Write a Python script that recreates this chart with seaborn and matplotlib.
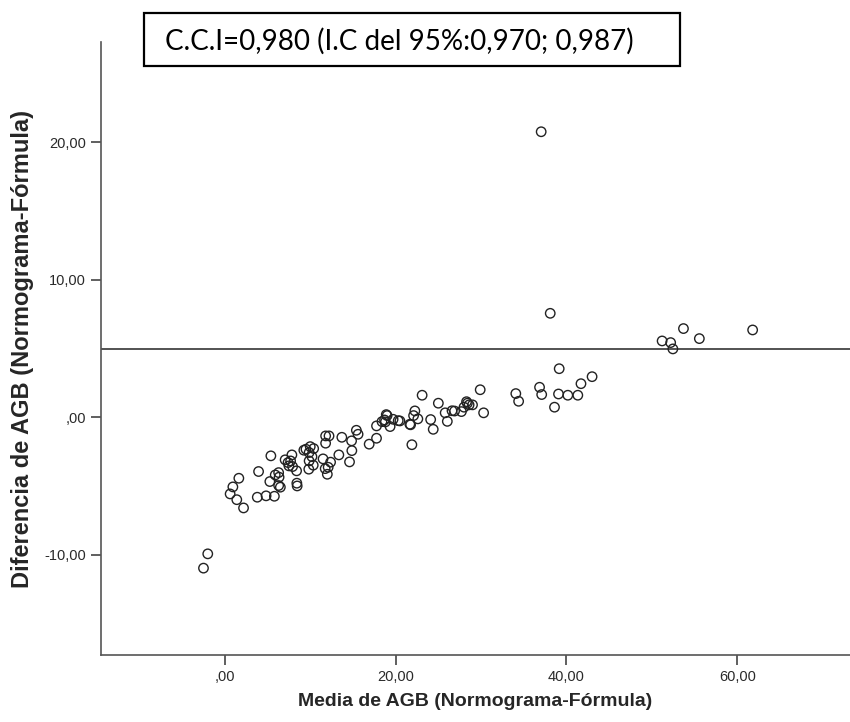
import matplotlib
matplotlib.use("Agg")
import matplotlib.pyplot as plt
import seaborn as sns
import pandas as pd
from matplotlib.ticker import FuncFormatter, FixedLocator
from matplotlib.patches import Rectangle

# ---- data ----
media = [-2.5, -2.0,
         0.62, 0.94, 1.4, 1.64, 2.19,
         3.8, 3.95, 4.83, 5.8,
         5.27, 5.39, 5.9, 6.3, 6.35, 6.5, 6.3,
         7.06, 7.4, 7.5, 7.85, 7.7, 7.93, 8.4, 8.43, 8.47,
         9.25, 9.5, 10.0, 9.87, 9.87, 9.83, 10.4, 10.2, 10.35,
         11.5, 11.75, 11.8, 12.2, 11.8, 12.38, 12.1, 12.0,
         13.35, 13.7, 14.84, 14.87, 14.6,
         15.4, 15.6, 16.9, 17.76, 17.76,
         18.4, 18.7, 18.8, 18.9, 19.0, 19.35, 19.7, 20.3,
         20.5, 21.66, 21.75, 21.9, 22.1, 22.25, 22.6,
         23.1, 24.1, 24.4, 25.0, 25.8, 26.05, 26.6, 26.9, 27.7, 28.0,
         28.3, 28.4, 28.6, 29.0, 29.9, 30.3,
         34.07, 34.4, 36.85, 37.1, 37.04, 38.1, 39.15, 39.07, 40.16,
         41.33, 38.6, 41.7, 43.0,
         51.2, 52.2, 52.46, 53.7, 55.56, 61.8]
diferencia = [-10.98, -9.94,
              -5.58, -5.07, -6.0, -4.44, -6.6,
              -5.82, -3.95, -5.72, -5.75,
              -4.68, -2.81, -4.2, -4.03, -4.36, -5.09, -4.97,
              -3.1, -3.3, -3.54, -2.74, -3.18, -3.59, -3.9, -4.8, -5.0,
              -2.4, -2.33, -2.14, -2.57, -3.18, -3.78, -2.28, -2.87, -3.49,
              -3.03, -3.74, -1.36, -1.36, -1.89, -3.27, -3.64, -4.15,
              -2.74, -1.46, -1.72, -2.43, -3.25,
              -0.95, -1.24, -1.96, -1.53, -0.63,
              -0.32, -0.2, -0.34, 0.19, 0.12, -0.68, -0.15, -0.25,
              -0.27, -0.51, -0.55, -2.0, 0.12, 0.46, -0.12,
              1.6, -0.17, -0.88, 1.02, 0.32, -0.3, 0.47, 0.45, 0.41, 0.73,
              1.13, 1.02, 0.9, 0.9, 2.0, 0.32,
              1.72, 1.16, 2.18, 1.65, 20.77, 7.56, 3.53, 1.69, 1.60,
              1.60, 0.73, 2.44, 2.95,
              5.55, 5.43, 4.97, 6.45, 5.72, 6.35]
linea_referencia = 5.0
x_ticks = [0, 20, 40, 60]
y_ticks = [-10, 0, 10, 20]
x_label = "Media de AGB (Normograma-Fórmula)"
y_label = "Diferencia de AGB (Normograma-Fórmula)"
titulo = "C.C.I=0,980 (I.C del 95%:0,970; 0,987)"

df = pd.DataFrame({"media": media, "diferencia": diferencia})

sns.set_style("white")
plt.rcParams["font.family"] = ["Liberation Sans", "DejaVu Sans"]

fig = plt.figure(figsize=(8.5, 7.22), dpi=100)
ax = fig.add_axes([101 / 850, 1 - 655 / 722, (850 - 101) / 850, (655 - 42) / 722])

sns.scatterplot(data=df, x="media", y="diferencia", ax=ax, s=46,
                marker="o", linewidth=1.0, edgecolor="#222222", zorder=3)
for coll in ax.collections:
    coll.set_facecolor("none")
    coll.set_edgecolor("#222222")

ax.axhline(linea_referencia, color="#444444", lw=1.3, zorder=2)

ax.set_xlim(-14.5, 73.2)
ax.set_ylim(-17.3, 27.3)


def fmt(v, pos=None):
    s = f"{v:.2f}".replace(".", ",")
    if s.startswith("0,"):
        s = s[1:]
    return s


ax.xaxis.set_major_locator(FixedLocator(x_ticks))
ax.yaxis.set_major_locator(FixedLocator(y_ticks))
ax.xaxis.set_major_formatter(FuncFormatter(fmt))
ax.yaxis.set_major_formatter(FuncFormatter(fmt))

for sp in ["top", "right"]:
    ax.spines[sp].set_visible(False)
for sp in ["left", "bottom"]:
    ax.spines[sp].set_color("#555555")
    ax.spines[sp].set_linewidth(1.2)

ax.tick_params(axis="both", direction="out", length=7, width=1.2,
               color="#444444", labelsize=10.5, labelcolor="#2a2a2a", pad=4,
               bottom=True, left=True)

ax.set_xlabel(x_label, fontsize=14, fontweight="bold", labelpad=6)
ax.set_ylabel(y_label, fontsize=17, fontweight="bold", labelpad=7)

fig.patches.append(Rectangle((144 / 850, 1 - 66 / 722), 536 / 850, 53 / 722,
                             transform=fig.transFigure, fill=False,
                             lw=1.6, ec="black"))
fig.text(165 / 850, 1 - 41 / 722, titulo, fontsize=20,
         family=["Lato", "DejaVu Sans"], va="center", ha="left", color="black")

fig.savefig("out.png", dpi=100)
